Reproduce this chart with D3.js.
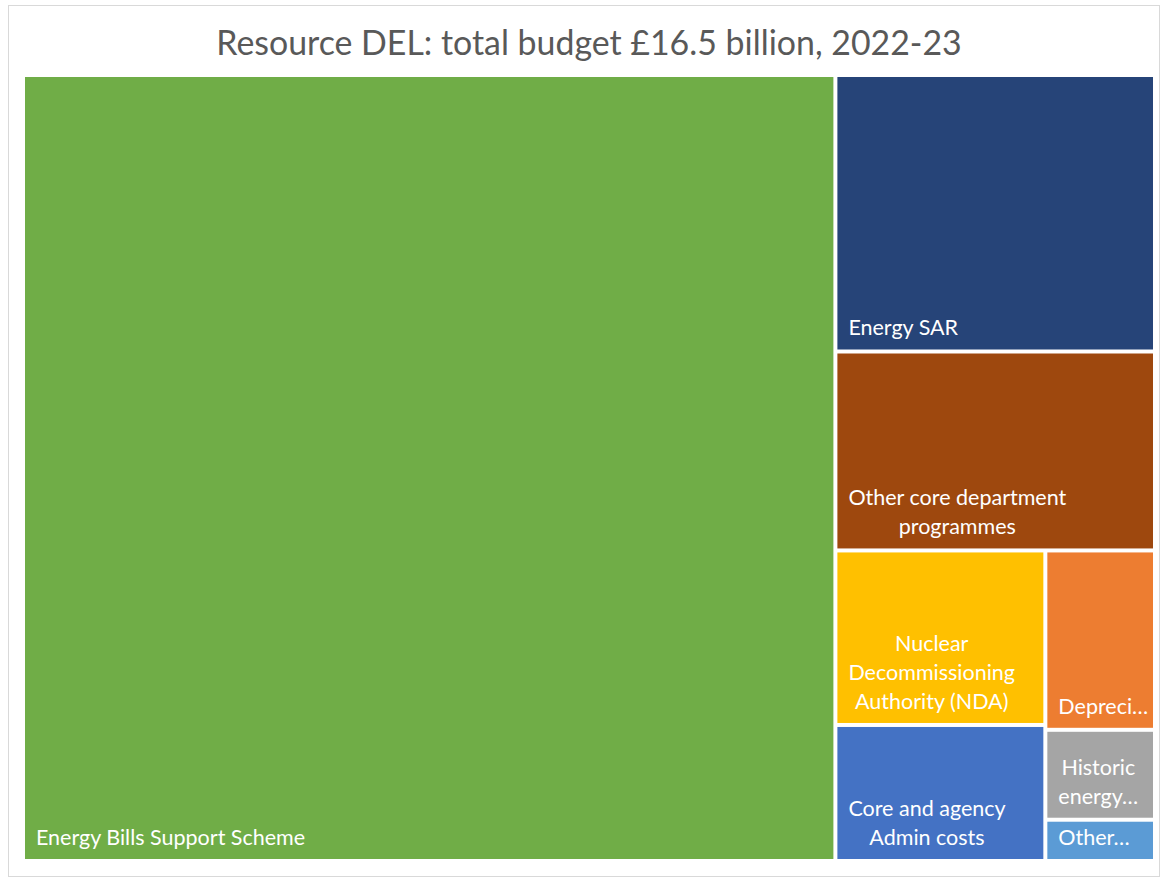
<!DOCTYPE html>
<html><head><meta charset="utf-8">
<script src="https://cdn.jsdelivr.net/npm/d3@7"></script>
<style>body{margin:0;background:#fff}</style>
</head><body>
<svg id="c" width="1166" height="878"></svg>
<script>
const categories = ["Energy Bills Support Scheme","Energy SAR","Other core department programmes","Nuclear Decommissioning Authority (NDA)","Core and agency Admin costs","Depreciation","Historic energy liabilities","Other ALBs"];
const values = [11.85,1.64,1.18,0.68,0.53,0.365,0.183,0.084];
const colors = ["#70AD47","#264478","#9E480E","#FFC000","#4472C4","#ED7D31","#A5A5A5","#5B9BD5"];
const title = "Resource DEL: total budget £16.5 billion, 2022-23";

const FONT = "Lato, 'Open Sans', sans-serif";
const svg = d3.select("#c");
svg.append("rect").attr("x",8.5).attr("y",5.5).attr("width",1151).attr("height",871)
  .attr("fill","#fff").attr("stroke","#d9d9d9");

const t = svg.append("text").attr("x",589).attr("y",55).attr("text-anchor","middle")
  .attr("fill","#595959").style("font-family",FONT).style("font-size","30px").text(title);
const tw = t.node().getComputedTextLength();
t.style("font-size", (30*746/tw)+"px");

const W = 1128, H = 782;
const root = d3.hierarchy({children: categories.map((c,i)=>({name:c,value:values[i],color:colors[i]}))})
  .sum(d=>d.value||0).sort((a,b)=>b.value-a.value);
d3.treemap().tile(d3.treemapSquarify.ratio(1)).size([W,H]).paddingInner(4)(root);

const g = svg.append("g").attr("transform","translate(25,77)");
const cells = g.selectAll("g.cell").data(root.leaves()).join("g").attr("class","cell");
cells.append("rect").attr("x",d=>d.x0).attr("y",d=>d.y0)
  .attr("width",d=>d.x1-d.x0).attr("height",d=>d.y1-d.y0).attr("fill",d=>d.data.color);

const LFS = 21.5, LH = 29, PADX = 11, PADR = 4, PADB = 14;
const meas = svg.append("text").style("font-family",FONT).style("font-size",LFS+"px").attr("visibility","hidden");
function w(s){ meas.text(s); return meas.node().getComputedTextLength(); }
function ell(s, maxW){
  let str = s;
  while(str.length>0 && w(str+"…")>maxW) str = str.slice(0,-1);
  return str+"…";
}
function wrap(label, maxW, maxLines){
  const words = label.split(" ");
  const lines = [];
  let cur = "";
  for (let i=0;i<words.length;i++){
    const wd = words[i];
    const test = cur ? cur+" "+wd : wd;
    if (w(test) <= maxW){ cur = test; continue; }
    if (!cur){ lines.push(ell(wd, maxW)); return lines; }
    lines.push(cur);
    if (lines.length === maxLines){
      lines[lines.length-1] = ell(cur, maxW); return lines;
    }
    cur = wd;
    if (w(cur) > maxW){ lines.push(ell(cur,maxW)); return lines; }
  }
  if (cur) lines.push(cur);
  return lines;
}
cells.each(function(d){
  const cw = d.x1-d.x0, ch = d.y1-d.y0;
  const maxW = cw - PADX - PADR;
  const maxLines = Math.max(1, Math.floor((ch - PADB - 20)/LH) + 1);
  const lines = wrap(d.data.name, maxW, maxLines);
  const bw = d3.max(lines, l=>w(l));
  const cx = d.x0 + PADX + bw/2;
  const lastY = d.y1 - PADB;
  const txt = d3.select(this).append("text").attr("fill","#fff")
    .style("font-family",FONT).style("font-size",LFS+"px").attr("text-anchor","middle");
  lines.forEach((l,i)=>{
    txt.append("tspan").attr("x",cx).attr("y", lastY - (lines.length-1-i)*LH).text(l);
  });
});
meas.remove();
</script>
</body></html>
